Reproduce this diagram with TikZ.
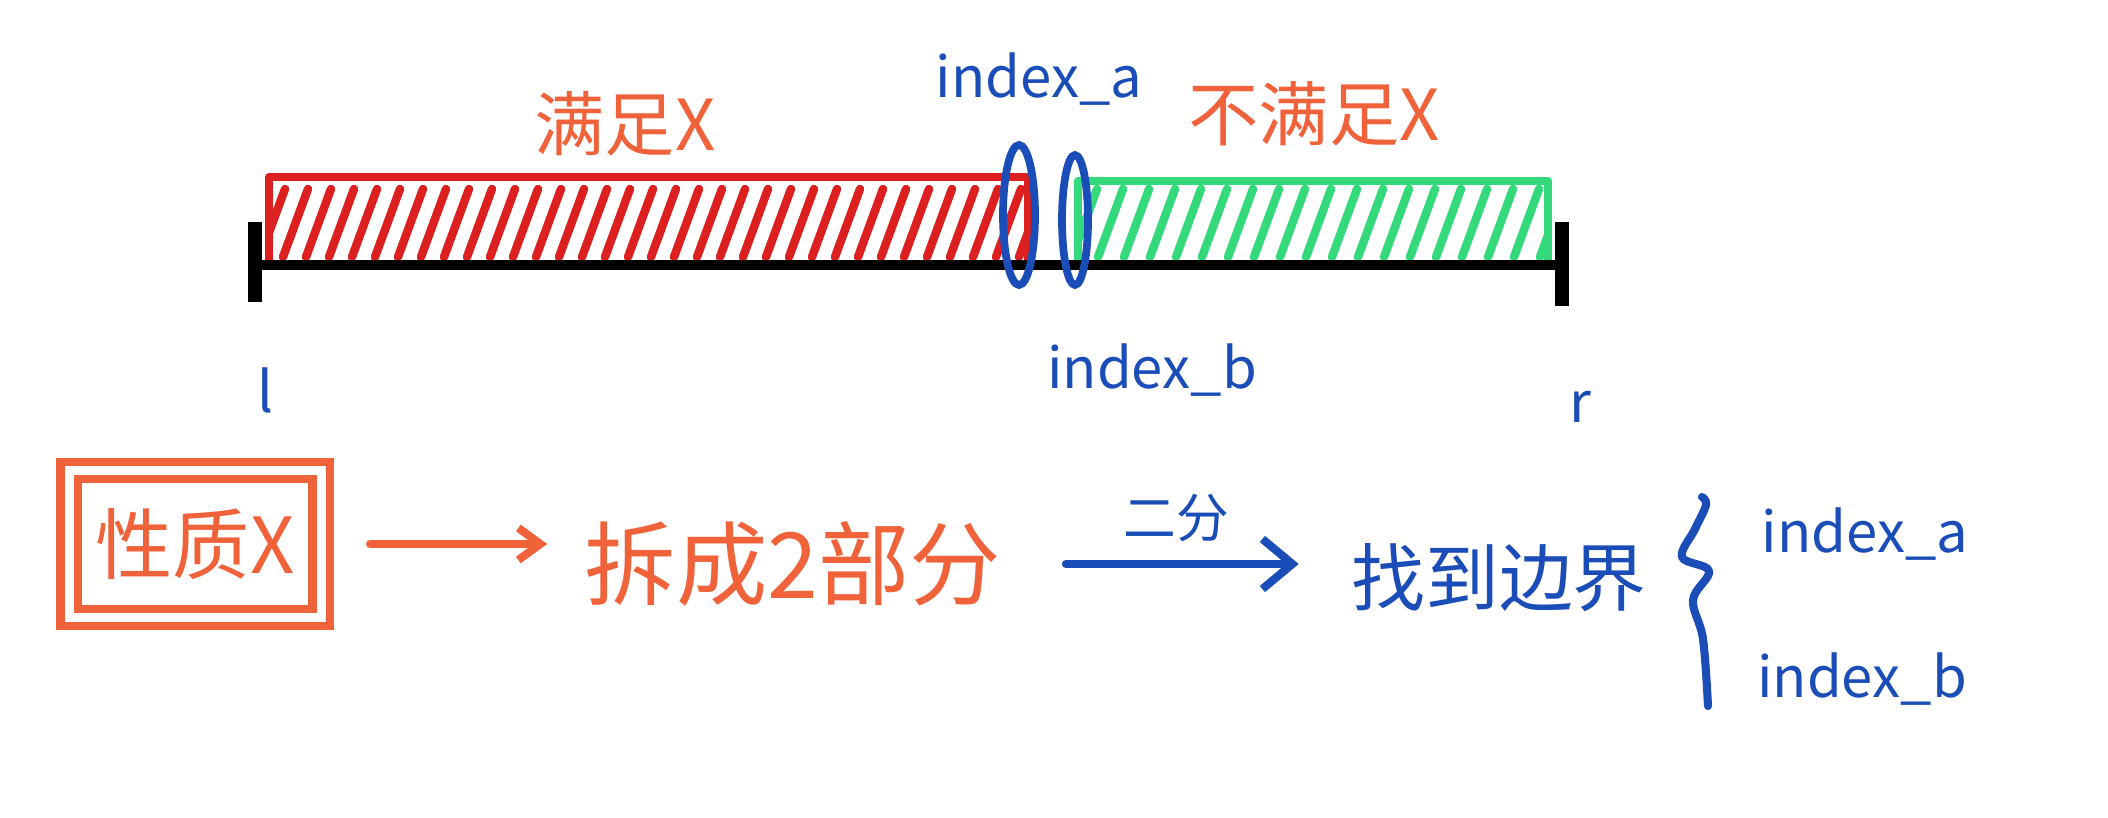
\documentclass[tikz,border=0pt]{standalone}
\usepackage{fontspec}
\setmainfont{Noto Sans CJK SC}
\usepackage{xcolor}
\usetikzlibrary{arrows.meta}
\definecolor{BSOrange}{HTML}{F0623A}
\definecolor{BSRed}{HTML}{DC1F1F}
\definecolor{BSGreen}{HTML}{33D97A}
\definecolor{BSBlue}{HTML}{1B4DB8}

\begin{document}
\begin{tikzpicture}[x=1cm,y=1cm,
  orlabel/.style={text=BSOrange,inner sep=0pt},
  bllabel/.style={text=BSBlue,inner sep=0pt,font=\fontsize{16}{18}\selectfont},
  hatchline/.style={line width=2.4pt,line cap=round},
  pen/.style={line width=2.3pt,line cap=round,line join=round},
  orarrow/.style={BSOrange,pen,-{Straight Barb[length=2.2mm,width=3.2mm]}},
  blarrow/.style={BSBlue,pen,-{Straight Barb[length=3mm,width=5mm]}}]
\path[use as bounding box] (0,0) rectangle (21.08,8.17);
\fill[white] (0,0) rectangle (21.08,8.17);
% satisfied part
\begin{scope}
\clip (2.69,5.52) rectangle (10.28,6.40);
\foreach \x in {2.60,2.83,...,10.20}
  \draw[BSRed,hatchline] (\x,5.60) -- ++(0.25,0.68);
\end{scope}
\draw[BSRed,pen] (2.69,5.52) -- (2.69,6.40) -- (10.28,6.40) -- (10.28,5.52);
% unsatisfied part
\begin{scope}
\clip (10.78,5.52) rectangle (15.48,6.36);
\foreach \x in {10.72,10.98,...,15.40}
  \draw[BSGreen,hatchline] (\x,5.60) -- ++(0.25,0.68);
\end{scope}
\draw[BSGreen,pen] (10.78,5.52) -- (10.78,6.36) -- (15.48,6.36) -- (15.48,5.52);
% axis
\draw[line width=2.6pt] (2.55,5.52) -- (15.62,5.52);
\draw[line width=4pt] (2.55,5.95) -- (2.55,5.15);
\draw[line width=4pt] (15.62,5.95) -- (15.62,5.11);
% boundary marks
\draw[BSBlue,line width=2.2pt] (10.19,6.02) ellipse [x radius=0.16,y radius=0.70];
\draw[BSBlue,line width=2.2pt] (10.75,5.97) ellipse [x radius=0.13,y radius=0.65];
\node[orlabel,font=\fontsize{20}{22}\selectfont] (sat) at (6.25,6.93) {满足X};
\node[orlabel,font=\fontsize{20}{22}\selectfont] (unsat) at (13.14,7.03) {不满足X};
\node[bllabel] (topa) at (10.39,7.38) {index\_a};
\node[bllabel] (topb) at (11.52,4.47) {index\_b};
\node[bllabel] (left) at (2.65,4.27) {l};
\node[bllabel] (right) at (15.80,4.10) {r};
% flow
\node[draw=BSOrange,line width=2.3pt,double=white,double distance=0.09cm,
  minimum width=2.52cm,minimum height=1.47cm,orlabel,
  font=\fontsize{22}{24}\selectfont] (prop) at (1.95,2.73) {性质X};
\node[orlabel,font=\fontsize{26}{28}\selectfont] (split) at (7.93,2.53) {拆成2部分};
\node[text=BSBlue,inner sep=0pt,font=\fontsize{21}{23}\selectfont] (bound) at (14.99,2.39) {找到边界};
\node[bllabel] (idxa) at (18.65,2.83) {index\_a};
\node[bllabel] (idxb) at (18.62,1.38) {index\_b};
\draw[orarrow,shorten <=0.45cm,shorten >=0.37cm] (prop.east) -- (prop.east -| split.west);
\draw[blarrow,shorten <=0.64cm,shorten >=0.52cm] (split.east) -- (split.east -| bound.west)
  node[midway,above=0.18cm,text=BSBlue,inner sep=0pt,font=\fontsize{15}{17}\selectfont] (halve) {二分};
\draw[BSBlue,pen] plot[smooth,tension=0.6] coordinates {(17.02,3.20) (17.06,3.12)
  (16.95,2.88) (16.82,2.60) (17.09,2.46) (16.93,2.17) (17.03,1.78) (17.08,1.11)};
\end{tikzpicture}
\end{document}
